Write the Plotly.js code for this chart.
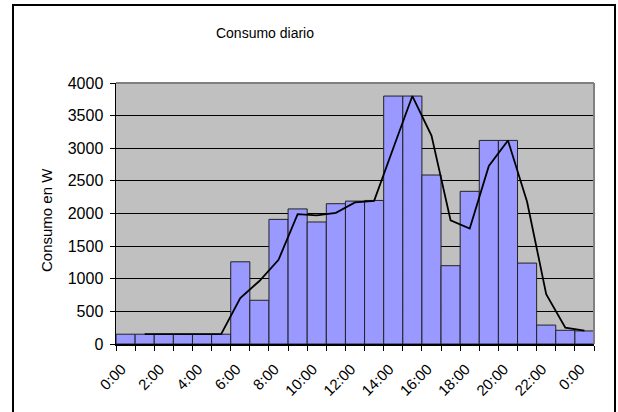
<!DOCTYPE html>
<html>
<head>
<meta charset="utf-8">
<script src="https://cdn.plot.ly/plotly-3.0.1.min.js"></script>
<style>
html,body{margin:0;padding:0;background:#fff;}
#chart{width:618px;height:412px;}
</style>
</head>
<body>
<div id="chart"></div>
<script>
// Hour index of each bar (0:00 of the day through 0:00 of the next day)
const hours = [0,1,2,3,4,5,6,7,8,9,10,11,12,13,14,15,16,17,18,19,20,21,22,23,24];
// Consumption per hour (W)
const consumo = [150,150,150,150,150,150,1260,670,1910,2070,1870,2150,2190,2200,3800,3800,2590,1200,2340,3120,3120,1240,290,210,200];
// Trend line values (W) (no point on the first hour)
const tendencia = [null,150,150,150,150,150,705,965,1290,1990,1970,2010,2170,2195,3000,3800,3195,1895,1770,2730,3120,2180,765,250,205];
// Tick labels shown on the x axis
const tickHours = [0,2,4,6,8,10,12,14,16,18,20,22,24];
const tickLabels = ['0:00','2:00','4:00','6:00','8:00','10:00','12:00','14:00','16:00','18:00','20:00','22:00','0:00'];

const L = 116, R = 594, T = 83, B = 344, W = 618, H = 412;
const pw = R - L, ph = B - T;
const px = v => (v - L) / pw;
const py = v => (B - v) / ph;

const font = {family: 'Arial, "Liberation Sans", sans-serif', color: '#000'};

const traces = [
  {
    type: 'bar', x: hours, y: consumo, width: 1,
    marker: {color: '#9999FF', line: {color: '#222', width: 1}},
    hoverinfo: 'x+y', showlegend: false
  },
  {
    type: 'scatter', mode: 'lines', x: hours, y: tendencia,
    line: {color: '#000', width: 1.8}, connectgaps: false, showlegend: false
  }
];

const layout = {
  width: W, height: H,
  margin: {l: L, r: W - R, t: T, b: H - B, pad: 0},
  paper_bgcolor: '#fff', plot_bgcolor: '#C0C0C0',
  bargap: 0,
  font: Object.assign({size: 15}, font),
  title: {
    text: 'Consumo diario',
    font: Object.assign({size: 14}, font),
    xref: 'container', yref: 'container',
    x: 265 / W, y: 1 - 33 / H, xanchor: 'center', yanchor: 'middle'
  },
  xaxis: {
    type: 'linear', range: [-0.5, 24.5],
    tickmode: 'array', tickvals: tickHours, ticktext: tickLabels,
    tickangle: -45, ticks: '', ticklen: 0,
    ticklabelstandoff: 9, ticklabelshift: -4,
    minor: {tickmode: 'linear', tick0: -0.5, dtick: 1, ticks: 'outside', ticklen: 5, tickcolor: '#000', tickwidth: 1, showgrid: false},
    showgrid: false, zeroline: false,
    showline: true, linecolor: '#000', linewidth: 1.5,
    tickfont: Object.assign({size: 15}, font),
    fixedrange: true
  },
  yaxis: {
    range: [0, 4000], dtick: 500, tick0: 0,
    ticks: 'outside', ticklen: 5, tickcolor: '#000', tickwidth: 1,
    ticklabelstandoff: 3,
    showgrid: true, gridcolor: '#000', gridwidth: 1,
    zeroline: false,
    showline: true, linecolor: '#000', linewidth: 1.5,
    tickfont: Object.assign({size: 16}, font),
    fixedrange: true
  },
  annotations: [
    {
      text: 'Consumo en W', xref: 'paper', yref: 'paper',
      x: px(46), y: py(220), xanchor: 'center', yanchor: 'middle',
      textangle: -90, showarrow: false,
      font: Object.assign({size: 15}, font)
    }
  ],
  shapes: [
    // plot area border (top and right)
    {type: 'line', xref: 'paper', yref: 'paper', x0: 0, x1: 1, y0: 1, y1: 1, line: {color: '#808080', width: 2}, layer: 'above'},
    {type: 'line', xref: 'paper', yref: 'paper', x0: 1, x1: 1, y0: 0, y1: 1, line: {color: '#808080', width: 2}, layer: 'above'},
    // outer chart frame
    {type: 'rect', xref: 'paper', yref: 'paper', x0: px(13), x1: px(615), y0: py(430), y1: py(5), line: {color: '#000', width: 2}, fillcolor: 'rgba(0,0,0,0)', layer: 'above'}
  ]
};

Plotly.newPlot('chart', traces, layout, {displayModeBar: false, staticPlot: true});
</script>
</body>
</html>
